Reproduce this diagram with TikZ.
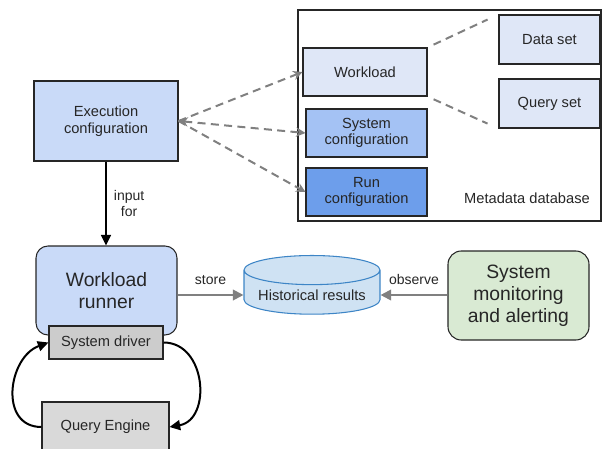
\documentclass[tikz,border=0pt]{standalone}
\usepackage{fontspec}
\setmainfont{Liberation Sans}
\usetikzlibrary{arrows.meta,shapes.geometric}

\definecolor{execblue}{HTML}{C9DAF8}
\definecolor{paleblue}{HTML}{DFE7F7}
\definecolor{midblue}{HTML}{A4C2F4}
\definecolor{deepblue}{HTML}{6D9EEB}
\definecolor{dbfill}{HTML}{CFE2F3}
\definecolor{dbline}{HTML}{3D85C6}
\definecolor{drivergray}{HTML}{CCCCCC}
\definecolor{enginegray}{HTML}{D9D9D9}
\definecolor{monitorgreen}{HTML}{D9EAD3}
\definecolor{linkgray}{HTML}{808080}

\begin{document}
\begin{tikzpicture}[x=0.75pt,y=-0.75pt,
    box/.style={draw=black!85, line width=0.8pt, align=center, inner sep=1pt,
      text=black!85, font=\fontsize{11}{12.5}\selectfont},
    bigbox/.style={box, rounded corners=9pt, minimum width=105.75pt, minimum height=66.75pt,
      font=\fontsize{14.5}{16.5}\selectfont},
    metabox/.style={box, minimum width=90.75pt, minimum height=36pt},
    setbox/.style={box, fill=paleblue, minimum width=75.75pt, minimum height=36.75pt},
    dasharrow/.style={linkgray, line width=1.5pt, dash pattern=on 6pt off 4pt, -{Stealth[length=7pt,width=7pt]}},
    dashlink/.style={linkgray, line width=1.5pt, dash pattern=on 6pt off 4pt},
    grayarrow/.style={linkgray, line width=1.5pt, -{Triangle[length=8pt,width=8pt]}},
    blackarrow/.style={black, line width=1.3pt, -{Triangle[length=8pt,width=7.5pt]}},
    edgelabel/.style={font=\fontsize{10.5}{12.5}\selectfont, text=black!85, align=center}]
  \useasboundingbox (0,0) rectangle (603,449);
  \clip (0,0) rectangle (603,449);

  % Metadata database
  \node[box, minimum width=227.25pt, minimum height=158.25pt] (meta) at (449.5,115.5) {};
  \node[edgelabel, font=\fontsize{11}{12.5}\selectfont] (metalabel) at (527,198) {Metadata database};
  \node[box, fill=paleblue, minimum width=93pt, minimum height=36pt] (work) at (365,72) {Workload};
  \node[metabox, fill=midblue] (sysconf) at (366.5,133) {System\\configuration};
  \node[metabox, fill=deepblue] (runconf) at (366.5,192) {Run\\configuration};
  \node[setbox] (data) at (549.5,39.5) {Data set};
  \node[setbox] (query) at (549.5,103.5) {Query set};
  \draw[dashlink, shorten <=5pt, shorten >=9pt] (work.north east) -- (data.north west);
  \draw[dashlink, shorten <=5pt, shorten >=9pt] (work.south east) -- (query.south west);

  % Execution configuration
  \node[box, fill=execblue, minimum width=108pt, minimum height=60pt] (exec) at (106,121) {Execution\\configuration};
  \draw[dasharrow] (exec.east) -- (work.west);
  \draw[dasharrow, {Stealth[length=7pt,width=7pt]}-{Stealth[length=7pt,width=7pt]}] (exec.east) -- (sysconf.west);
  \draw[dasharrow] (exec.east) -- (runconf.west);

  % Runner and engine
  \node[bigbox, fill=execblue] (runner) at (106.5,290.5) {Workload\\runner};
  \node[box, fill=drivergray, minimum width=85.5pt, minimum height=24.75pt] (driver) at (106,342.5) {System driver};
  \node[box, fill=enginegray, minimum width=95.25pt, minimum height=37.5pt] (engine) at (105.5,427) {Query Engine};
  \draw[blackarrow] (exec.south) -- (exec.south |- runner.north)
    node[edgelabel, midway, right=2pt] {input\\for};
  \draw[blackarrow, line width=1.5pt] (engine.west) to[out=180, in=200, looseness=1.3] (driver.west);
  \draw[blackarrow, line width=1.5pt] (driver.east) to[out=0, in=10, looseness=1.3] (engine.east);

  % Results
  \node[cylinder, shape border rotate=90, aspect=0.25, draw=dbline, line width=0.8pt, fill=dbfill,
    text=black!85, minimum width=102pt, minimum height=43.5pt, font=\fontsize{11}{12.5}\selectfont] (hist) at (312,295) {Historical results};
  \node[bigbox, fill=monitorgreen, rounded corners=10pt] (monitor) at (518.5,295.5) {System\\monitoring\\and alerting};
  \draw[grayarrow] (runner.east |- hist.west) -- (hist.west) node[edgelabel, midway, above=4pt] {store};
  \draw[grayarrow] (monitor.west |- hist.east) -- (hist.east) node[edgelabel, midway, above=4pt] {observe};
\end{tikzpicture}
\end{document}
